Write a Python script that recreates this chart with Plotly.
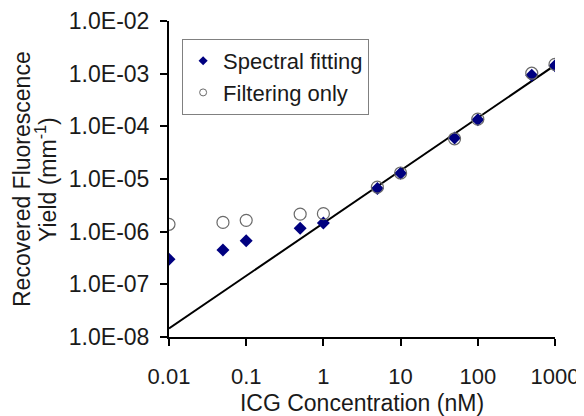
import plotly.graph_objects as go

# ICG concentration (nM)
conc = [0.01, 0.05, 0.1, 0.5, 1, 5, 10, 50, 100, 500, 1000]

# recovered fluorescence yield (mm^-1)
spectral_fit = [3.0e-7, 4.5e-7, 6.7e-7, 1.16e-6, 1.46e-6, 6.6e-6, 1.28e-5, 6.0e-5, 1.33e-4, 9.3e-4, 1.41e-3]
filtering_only = [1.38e-6, 1.5e-6, 1.64e-6, 2.15e-6, 2.2e-6, 7.0e-6, 1.3e-5, 5.8e-5, 1.37e-4, 1.02e-3, 1.5e-3]

# straight reference line
line_x = [0.01, 1000]
line_y = [1.45e-8, 1.45e-3]

y_ticks = [1e-8, 1e-7, 1e-6, 1e-5, 1e-4, 1e-3, 1e-2]
y_labels = ['1.0E-08', '1.0E-07', '1.0E-06', '1.0E-05', '1.0E-04', '1.0E-03', '1.0E-02']
x_ticks = [0.01, 0.1, 1, 10, 100, 1000]
x_labels = ['0.01', '0.1', '1', '10', '100', '1000']

font = 'Liberation Sans, Arial, sans-serif'
navy = '#000080'
grey = '#6a6a6a'

fig = go.Figure()

fig.add_trace(go.Scatter(x=line_x, y=line_y, mode='lines',
                         line=dict(color='black', width=2), showlegend=False))
fig.add_trace(go.Scatter(x=conc, y=spectral_fit, mode='markers', showlegend=False,
                         marker=dict(symbol='diamond', size=10, color=navy)))
fig.add_trace(go.Scatter(x=conc, y=filtering_only, mode='markers', showlegend=False,
                         marker=dict(symbol='circle-open', size=12, color=grey,
                                     line=dict(width=1.2))))
# legend entries with the small symbols of the original
fig.add_trace(go.Scatter(x=[None], y=[None], mode='markers', name='Spectral fitting',
                         marker=dict(symbol='diamond', size=7, color=navy)))
fig.add_trace(go.Scatter(x=[None], y=[None], mode='markers', name='Filtering only',
                         marker=dict(symbol='circle-open', size=7, color=grey,
                                     line=dict(width=1))))

axis_common = dict(type='log', showline=True, linecolor='black', linewidth=2,
                   showgrid=False, zeroline=False, ticks='outside', ticklen=7,
                   tickwidth=2, tickcolor='black', automargin=False)

# the page body has an 8px margin, so the figure is drawn 8px in from the corner
fig.update_layout(
    width=576, height=408,
    margin=dict(l=161, r=29, t=13, b=79),
    plot_bgcolor='white', paper_bgcolor='white',
    font=dict(family=font, size=22, color='#1a1a1a'),
    legend=dict(x=0.034, y=0.943, xanchor='left', yanchor='top',
                bordercolor='#808080', borderwidth=1, bgcolor='white',
                font=dict(size=22), itemwidth=30, tracegroupgap=0),
    xaxis=dict(axis_common, range=[-2, 3], tickvals=x_ticks, ticktext=x_labels,
               tickfont=dict(size=22), ticklabelstandoff=12,
               title=dict(text='ICG Concentration (nM)', font=dict(size=23), standoff=12)),
    yaxis=dict(axis_common, range=[-8, -2], tickvals=y_ticks, ticktext=y_labels,
               tickfont=dict(size=23), ticklabelstandoff=6),
    annotations=[
        dict(text='Recovered Fluorescence', textangle=-90, showarrow=False,
             xref='paper', yref='paper', x=(22 - 169) / 386, y=0.5,
             xanchor='center', yanchor='middle', font=dict(size=23)),
        dict(text='Yield (mm<sup>-1</sup>)', textangle=-90, showarrow=False,
             xref='paper', yref='paper', x=(46 - 169) / 386, y=0.5,
             xanchor='center', yanchor='middle', font=dict(size=23)),
    ],
)

fig.write_html("out.html")
